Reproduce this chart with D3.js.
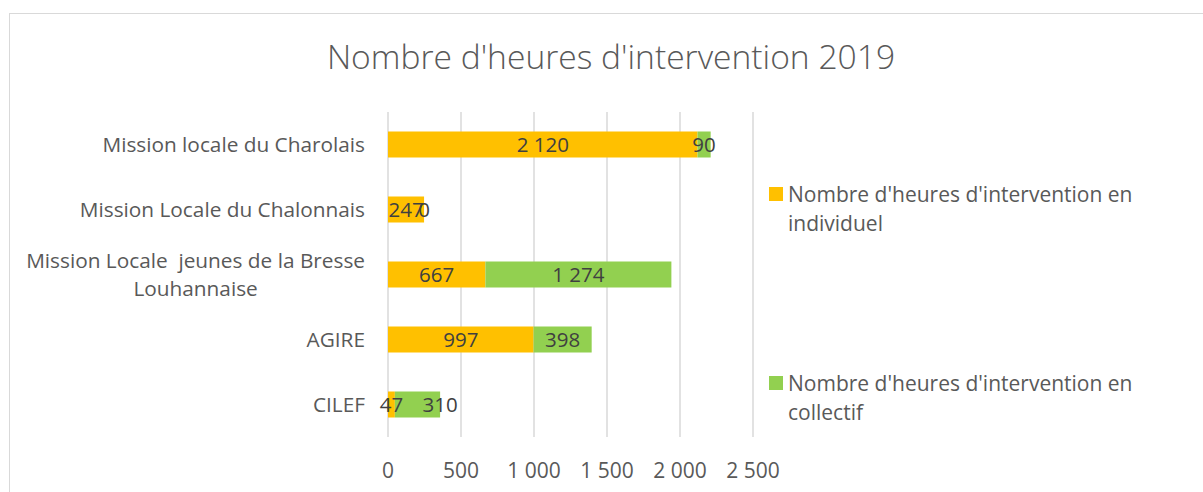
<!DOCTYPE html>
<html>
<head>
<meta charset="utf-8">
<script src="https://cdn.jsdelivr.net/npm/d3@7"></script>
<style>
  body { margin: 0; background: #fff; }
  svg { display: block; font-family: "Open Sans", sans-serif; }
</style>
</head>
<body>
<div id="chart"></div>
<script>
const title = "Nombre d'heures d'intervention 2019";

const categories = [
  'Mission locale du Charolais',
  'Mission Locale du Chalonnais',
  'Mission Locale  jeunes de la Bresse|Louhannaise',
  'AGIRE',
  'CILEF',
];

const individuel = [2120, 247, 667, 997, 47];
const collectif = [90, 0, 1274, 398, 310];

const seriesNames = [
  "Nombre d'heures d'intervention en|individuel",
  "Nombre d'heures d'intervention en|collectif",
];
const colors = ['#FFC000', '#92D050'];

const xTicks = [0, 500, 1000, 1500, 2000, 2500];

const width = 1203;
const height = 492;

const fr = d3.formatLocale({ decimal: ',', thousands: '\u00a0', grouping: [3], currency: ['', ' €'] });
const fmt = fr.format(',d');

const svg = d3
  .select('#chart')
  .append('svg')
  .attr('width', width)
  .attr('height', height);

// chart frame
svg.append('rect')
  .attr('x', 9.5).attr('y', 13.5)
  .attr('width', width + 20).attr('height', height + 20)
  .attr('fill', '#fff').attr('stroke', '#d9d9d9').attr('stroke-width', 1);

svg.append('text')
  .attr('x', 611).attr('y', 69)
  .attr('text-anchor', 'middle')
  .attr('fill', '#595959')
  .style('font-size', '33.6px')
  .style('font-weight', 300)
  .text(title);

const x = d3.scaleLinear().domain([0, 2500]).range([388, 753]);
const y = d3.scaleBand().domain(categories).range([112, 437]).paddingInner(0.6).paddingOuter(0.3);

// gridlines
svg.append('g')
  .selectAll('line')
  .data(xTicks)
  .join('line')
  .attr('x1', (d) => x(d)).attr('x2', (d) => x(d))
  .attr('y1', 112).attr('y2', 437)
  .attr('stroke', '#d9d9d9')
  .attr('stroke-width', 1.5);

// tick labels
svg.append('g')
  .selectAll('text')
  .data(xTicks)
  .join('text')
  .attr('x', (d) => x(d))
  .attr('y', 470)
  .attr('dy', '0.36em')
  .attr('text-anchor', 'middle')
  .attr('fill', '#595959')
  .style('font-size', '21px')
  .text((d) => fmt(d));

// stacked bars
const rows = categories.map((c, i) => ({ c, a: individuel[i], b: collectif[i] }));

const segs = [];
rows.forEach((r) => {
  segs.push({ c: r.c, x0: 0, x1: r.a, v: r.a, k: 0 });
  segs.push({ c: r.c, x0: r.a, x1: r.a + r.b, v: r.b, k: 1 });
});

svg.append('g')
  .selectAll('rect')
  .data(segs)
  .join('rect')
  .attr('x', (d) => x(d.x0))
  .attr('y', (d) => y(d.c))
  .attr('width', (d) => x(d.x1) - x(d.x0))
  .attr('height', y.bandwidth())
  .attr('fill', (d) => colors[d.k]);

// data labels, centred in their segment; a non-zero label that would
// run into the one before it is moved to the end of its bar
const labels = svg.append('g')
  .selectAll('text')
  .data(segs)
  .join('text')
  .attr('x', (d) => (x(d.x0) + x(d.x1)) / 2)
  .attr('y', (d) => y(d.c) + y.bandwidth() / 2)
  .attr('dy', '0.36em')
  .attr('text-anchor', 'middle')
  .attr('fill', '#404040')
  .style('font-size', '20.5px')
  .text((d) => fmt(d.v));

labels.each(function (d, i) {
  if (d.k !== 1 || d.v === 0) return;
  const prev = labels.nodes()[i - 1];
  const pb = prev.getBBox();
  const b = this.getBBox();
  if (b.x < pb.x + pb.width) d3.select(this).attr('x', x(d.x1));
});

// category labels
const catG = svg.append('g');
categories.forEach((c) => {
  const lines = c.split('|');
  const cy = y(c) + y.bandwidth() / 2;
  const t = catG.append('text')
    .attr('fill', '#595959')
    .style('font-size', '20.8px')
    .attr('text-anchor', 'middle')
    .style('white-space', 'pre')
    .attr('xml:space', 'preserve');
  lines.forEach((l, j) => {
    t.append('tspan')
      .attr('y', cy + (j - (lines.length - 1) / 2) * 28)
      .attr('dy', '0.36em')
      .text(l);
  });
  let maxW = 0;
  t.selectAll('tspan').each(function () {
    maxW = Math.max(maxW, this.getComputedTextLength());
  });
  t.selectAll('tspan').attr('x', 365 - maxW / 2);
});

// legend
const legY = [194, 383];
const leg = svg.append('g');
seriesNames.forEach((s, i) => {
  leg.append('rect')
    .attr('x', 769).attr('y', legY[i] - 7)
    .attr('width', 14).attr('height', 14)
    .attr('fill', colors[i]);
  const t = leg.append('text')
    .attr('fill', '#595959')
    .style('font-size', '21px');
  s.split('|').forEach((l, j) => {
    t.append('tspan')
      .attr('x', 788)
      .attr('y', legY[i] + j * 29.5)
      .attr('dy', '0.36em')
      .text(l);
  });
});
</script>
</body>
</html>
